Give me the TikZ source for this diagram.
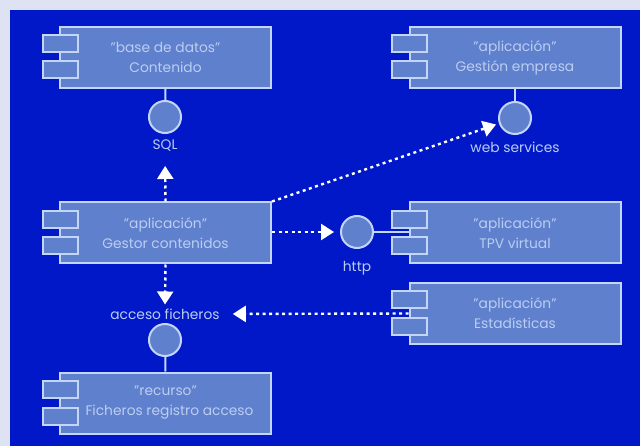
\documentclass[tikz,border=0pt]{standalone}
\usepackage{fontspec}
\setmainfont{Poppins}
\usetikzlibrary{arrows.meta}
\definecolor{pagebg}{HTML}{DDE3F3}
\definecolor{deep}{HTML}{0018C8}
\definecolor{fillb}{HTML}{5F80CC}
\definecolor{edge}{HTML}{C4D6F8}
\definecolor{ink}{HTML}{BCCDF2}
\tikzset{
  compbox/.style={draw=edge,fill=fillb,line width=2pt,minimum width=211pt,minimum height=61pt,inner sep=0pt,align=center,text=ink,font=\fontsize{13.8}{20}\selectfont},
  stub/.style={draw=edge,fill=fillb,line width=2pt,minimum width=35pt,minimum height=17pt,inner sep=0pt},
  iface/.style={circle,draw=edge,fill=fillb,line width=2pt,minimum size=32pt,inner sep=0pt},
  lbl/.style={text=ink,font=\fontsize{13.8}{14}\selectfont,inner sep=0pt},
  solidlink/.style={draw=edge,line width=2pt},
  deplink/.style={draw=white,line width=2.4pt,dash pattern=on 3pt off 3.5pt,-{Triangle[length=13pt,width=16pt,fill=white]}}
}
\begin{document}
\begin{tikzpicture}[x=1pt,y=-1pt]
\useasboundingbox (0,0) rectangle (640,446);
\fill[pagebg] (0,0) rectangle (640,446);
\fill[deep] (10,10) rectangle (640,446);
% components
\node[compbox] (db) at (165.5,57.5) {"base de datos"\\Contenido};
\node[stub] (db1) at (60,43.5) {};
\node[stub] (db2) at (60,70) {};
\node[compbox] (emp) at (515,57.5) {"aplicación"\\Gestión empresa};
\node[stub] (emp1) at (409.5,43.5) {};
\node[stub] (emp2) at (409.5,70) {};
\node[compbox] (ges) at (165.5,233) {"aplicación"\\Gestor contenidos};
\node[stub] (ges1) at (60,219.5) {};
\node[stub] (ges2) at (60,246) {};
\node[compbox] (tpv) at (515,233) {"aplicación"\\TPV virtual};
\node[stub] (tpv1) at (409.5,219.5) {};
\node[stub] (tpv2) at (409.5,246) {};
\node[compbox] (est) at (515,313.5) {"aplicación"\\Estadísticas};
\node[stub] (est1) at (409.5,300) {};
\node[stub] (est2) at (409.5,326.5) {};
\node[compbox] (rec) at (165.5,403) {"recurso"\\\hspace*{8pt}Ficheros registro acceso};
\node[stub] (rec1) at (60,389.5) {};
\node[stub] (rec2) at (60,416) {};
% interfaces
\node[iface] (isql) at (165,117) {};
\node[iface] (iweb) at (515,118) {};
\node[iface] (ihttp) at (357,232) {};
\node[iface] (ifile) at (165,340) {};
% labels
\node[lbl] (lsql) at (165,146) {SQL};
\node[lbl] (lweb) at (515,147) {web services};
\node[lbl] (lhttp) at (357,268) {http};
\node[lbl] (lfile) at (165,314) {acceso ficheros};
% solid links
\draw[solidlink] (db.south) -- (isql);
\draw[solidlink] (emp.south) -- (iweb);
\draw[solidlink] (ifile) -- (rec.north);
\draw[solidlink] (ihttp) -- (ihttp-|tpv.west);
% dependencies
\draw[deplink,shorten >=14pt] (ges.north) -- (lsql.south);
\draw[deplink,shorten >=3pt] (ges.north east) -- (iweb);
\draw[deplink,shorten >=6pt] (ihttp-|ges.east) -- (ihttp);
\draw[deplink,shorten >=4pt] (ges.south) -- (lfile.north);
\draw[deplink,shorten >=13pt] (est.west) -- (lfile.east);
\end{tikzpicture}
\end{document}
